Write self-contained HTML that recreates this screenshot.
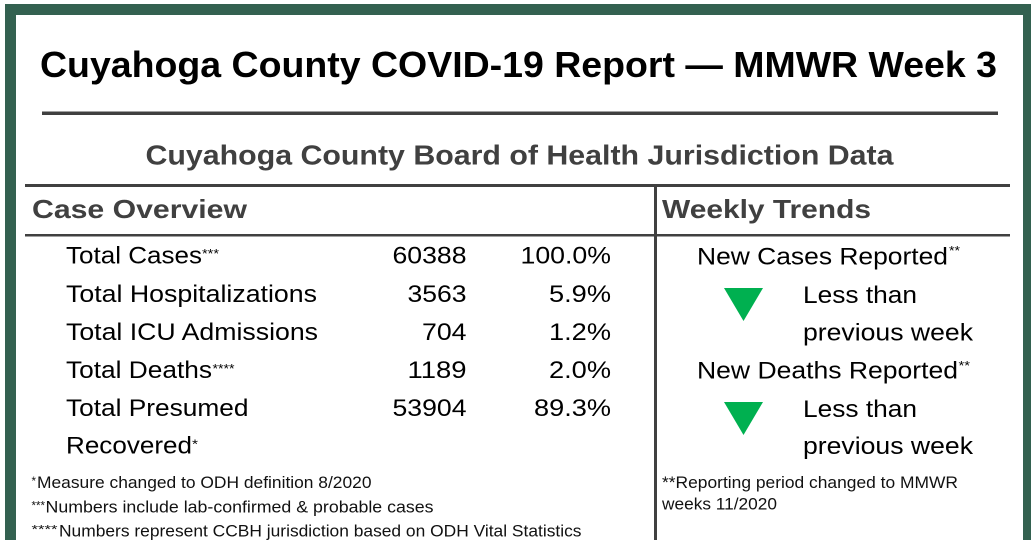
<!DOCTYPE html>
<html>
<head>
<meta charset="utf-8">
<style>
html,body{margin:0;padding:0;background:#fff;}
body{width:1031px;height:540px;overflow:hidden;}
svg{display:block;}
text{font-family:"Liberation Sans",Arial,Helvetica,sans-serif;}
.b{font-weight:bold;}
</style>
</head>
<body>
<svg width="1031" height="540" viewBox="0 0 1031 540" xmlns="http://www.w3.org/2000/svg">
  <rect x="0" y="0" width="1031" height="540" fill="#ffffff"/>
  <!-- green frame -->
  <rect x="5" y="4" width="1026" height="11" fill="#336150"/>
  <rect x="5" y="4" width="11" height="536" fill="#336150"/>
  <rect x="1023" y="4" width="8" height="536" fill="#336150"/>

  <!-- title -->
  <text class="b" x="40" y="77" font-size="36" fill="#000" textLength="957" lengthAdjust="spacingAndGlyphs">Cuyahoga County COVID-19 Report — MMWR Week 3</text>
  <rect x="42" y="111.5" width="956" height="3.5" fill="#404040"/>

  <!-- subtitle -->
  <text class="b" x="145.5" y="164.5" font-size="28" fill="#404040" textLength="748" lengthAdjust="spacingAndGlyphs">Cuyahoga County Board of Health Jurisdiction Data</text>
  <rect x="25" y="184" width="985" height="3" fill="#404040"/>

  <!-- headers -->
  <text class="b" x="32" y="218" font-size="26" fill="#404040" textLength="215" lengthAdjust="spacingAndGlyphs">Case Overview</text>
  <text class="b" x="662" y="218" font-size="26" fill="#404040" textLength="209" lengthAdjust="spacingAndGlyphs">Weekly Trends</text>
  <rect x="25" y="234" width="985" height="2.5" fill="#404040"/>
  <rect x="654" y="185" width="3" height="355" fill="#404040"/>

  <!-- left rows -->
  <g font-size="24" fill="#000">
    <text x="66" y="263.5" textLength="136" lengthAdjust="spacingAndGlyphs">Total Cases</text>
    <text x="66" y="302" textLength="251" lengthAdjust="spacingAndGlyphs">Total Hospitalizations</text>
    <text x="66" y="340" textLength="252" lengthAdjust="spacingAndGlyphs">Total ICU Admissions</text>
    <text x="66" y="378" textLength="146" lengthAdjust="spacingAndGlyphs">Total Deaths</text>
    <text x="66" y="416" textLength="182.5" lengthAdjust="spacingAndGlyphs">Total Presumed</text>
    <text x="66" y="453.5" textLength="126" lengthAdjust="spacingAndGlyphs">Recovered</text>

    <text x="466.5" y="263.5" text-anchor="end" textLength="74" lengthAdjust="spacingAndGlyphs">60388</text>
    <text x="466.5" y="302" text-anchor="end" textLength="59" lengthAdjust="spacingAndGlyphs">3563</text>
    <text x="466.5" y="340" text-anchor="end" textLength="44.5" lengthAdjust="spacingAndGlyphs">704</text>
    <text x="466.5" y="378" text-anchor="end" textLength="59" lengthAdjust="spacingAndGlyphs">1189</text>
    <text x="466.5" y="416" text-anchor="end" textLength="74" lengthAdjust="spacingAndGlyphs">53904</text>

    <text x="611" y="263.5" text-anchor="end" textLength="90.5" lengthAdjust="spacingAndGlyphs">100.0%</text>
    <text x="611" y="302" text-anchor="end" textLength="62" lengthAdjust="spacingAndGlyphs">5.9%</text>
    <text x="611" y="340" text-anchor="end" textLength="62" lengthAdjust="spacingAndGlyphs">1.2%</text>
    <text x="611" y="378" text-anchor="end" textLength="62" lengthAdjust="spacingAndGlyphs">2.0%</text>
    <text x="611" y="416" text-anchor="end" textLength="77" lengthAdjust="spacingAndGlyphs">89.3%</text>
  </g>
  <!-- row superscripts -->
  <g font-size="13" fill="#000">
    <text x="202" y="258" textLength="17" lengthAdjust="spacingAndGlyphs">***</text>
    <text x="212.5" y="373" textLength="22" lengthAdjust="spacingAndGlyphs">****</text>
    <text x="192" y="448.5" textLength="6" lengthAdjust="spacingAndGlyphs">*</text>
    <text x="949" y="255" textLength="11" lengthAdjust="spacingAndGlyphs">**</text>
    <text x="958.5" y="370" textLength="11.5" lengthAdjust="spacingAndGlyphs">**</text>
  </g>

  <!-- right trends -->
  <g font-size="24" fill="#000">
    <text x="697" y="264.5" textLength="251" lengthAdjust="spacingAndGlyphs">New Cases Reported</text>
    <text x="803" y="303" textLength="114" lengthAdjust="spacingAndGlyphs">Less than</text>
    <text x="803" y="340.5" textLength="170" lengthAdjust="spacingAndGlyphs">previous week</text>
    <text x="697" y="378.5" textLength="261" lengthAdjust="spacingAndGlyphs">New Deaths Reported</text>
    <text x="803" y="417" textLength="114" lengthAdjust="spacingAndGlyphs">Less than</text>
    <text x="803" y="454" textLength="170" lengthAdjust="spacingAndGlyphs">previous week</text>
  </g>
  <polygon points="724,288 763,288 743.5,321" fill="#00B050"/>
  <polygon points="724,402 763,402 743.5,435" fill="#00B050"/>

  <!-- left footnotes -->
  <g font-size="17" fill="#111">
    <text x="31.5" y="485" font-size="12" textLength="4.5" lengthAdjust="spacingAndGlyphs">*</text>
    <text x="37" y="488" textLength="334.5" lengthAdjust="spacingAndGlyphs">Measure changed to ODH definition 8/2020</text>
    <text x="31.5" y="509.5" font-size="12" textLength="13.5" lengthAdjust="spacingAndGlyphs">***</text>
    <text x="45.5" y="512.5" textLength="388" lengthAdjust="spacingAndGlyphs">Numbers include lab-confirmed &amp; probable cases</text>
    <text x="31.5" y="533.5" font-size="12" textLength="26" lengthAdjust="spacingAndGlyphs">****</text>
    <text x="59" y="536.5" textLength="522.5" lengthAdjust="spacingAndGlyphs">Numbers represent CCBH jurisdiction based on ODH Vital Statistics</text>
  </g>

  <!-- right footnote -->
  <g font-size="17" fill="#111">
    <text x="662" y="488" textLength="296" lengthAdjust="spacingAndGlyphs">**Reporting period changed to MMWR</text>
    <text x="662" y="509.5" textLength="115" lengthAdjust="spacingAndGlyphs">weeks 11/2020</text>
  </g>
</svg>
</body>
</html>
